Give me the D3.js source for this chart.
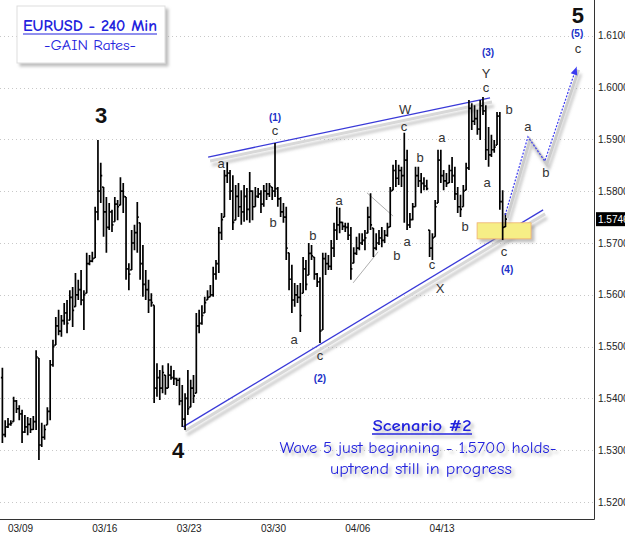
<!DOCTYPE html>
<html>
<head>
<meta charset="utf-8">
<script src="https://cdn.jsdelivr.net/npm/d3@7"></script>
<style>
  body { margin: 0; background: #fff; }
  svg { display: block; font-family: "Liberation Sans", Arial, sans-serif; }
</style>
</head>
<body>
<svg width="625" height="542"></svg>
<script>
// 240 min bars, index 0 = last bars of Fri 03/07, 30 bars per week
const highs = [
  1.5459, 1.5358,
  1.5362, 1.5358, 1.5403, 1.5397, 1.5387, 1.5378, 1.5368, 1.5364, 1.5362, 1.5366,
  1.5493, 1.5478, 1.5353, 1.5349, 1.5383, 1.5474, 1.5513, 1.5557, 1.5571, 1.5561,
  1.5584, 1.5590, 1.5609, 1.5615, 1.5642, 1.5629, 1.5648, 1.5609, 1.5681, 1.5677,
  1.5683, 1.5770, 1.5899, 1.5855, 1.5808, 1.5789, 1.5777, 1.5764, 1.5789, 1.5783,
  1.5827, 1.5816, 1.5789, 1.5661, 1.5725, 1.5735, 1.5779, 1.5739, 1.5696, 1.5648,
  1.5629, 1.5603, 1.5580, 1.5468, 1.5455, 1.5464, 1.5445, 1.5468, 1.5463, 1.5455,
  1.5440, 1.5440, 1.5426, 1.5410, 1.5455, 1.5436, 1.5445, 1.5565, 1.5571, 1.5580,
  1.5596, 1.5609, 1.5619, 1.5654, 1.5667, 1.5731, 1.5758, 1.5841, 1.5856, 1.5841,
  1.5831, 1.5812, 1.5816, 1.5802, 1.5812, 1.5806, 1.5837, 1.5802, 1.5808, 1.5806,
  1.5802, 1.5812, 1.5816, 1.5816, 1.5808, 1.5893, 1.5808, 1.5789, 1.5777, 1.5770,
  1.5681, 1.5658, 1.5623, 1.5619, 1.5623, 1.5673, 1.5667, 1.5700, 1.5696, 1.5673,
  1.5642, 1.5634, 1.5681, 1.5681, 1.5677, 1.5706, 1.5739, 1.5770, 1.5768, 1.5741,
  1.5739, 1.5739, 1.5731, 1.5692, 1.5712, 1.5719, 1.5719, 1.5725, 1.5770, 1.5796,
  1.5729, 1.5719, 1.5725, 1.5731, 1.5725, 1.5739, 1.5808, 1.5851, 1.5860, 1.5851,
  1.5847, 1.5913, 1.5880, 1.5758, 1.5777, 1.5847, 1.5847, 1.5835, 1.5827, 1.5822,
  1.5725, 1.5719, 1.5783, 1.5880, 1.5880, 1.5841, 1.5835, 1.5851, 1.5866, 1.5847,
  1.5808, 1.5793, 1.5812, 1.5855, 1.5976, 1.5970, 1.5966, 1.5957, 1.5976, 1.5982,
  1.5966, 1.5924, 1.5909, 1.5899, 1.5953, 1.5953, 1.5802, 1.5758
];
const lows = [
  1.5314, 1.5325,
  1.5343, 1.5347, 1.5355, 1.5372, 1.5358, 1.5314, 1.5333, 1.5329, 1.5333, 1.5339,
  1.5339, 1.5281, 1.5306, 1.5320, 1.5349, 1.5358, 1.5461, 1.5503, 1.5522, 1.5519,
  1.5542, 1.5526, 1.5551, 1.5538, 1.5577, 1.5590, 1.5580, 1.5532, 1.5603, 1.5657,
  1.5663, 1.5671, 1.5744, 1.5777, 1.5712, 1.5681, 1.5725, 1.5721, 1.5741, 1.5744,
  1.5773, 1.5758, 1.5629, 1.5609, 1.5648, 1.5686, 1.5681, 1.5629, 1.5596, 1.5590,
  1.5565, 1.5577, 1.5391, 1.5403, 1.5397, 1.5410, 1.5407, 1.5420, 1.5436, 1.5426,
  1.5424, 1.5387, 1.5345, 1.5339, 1.5368, 1.5383, 1.5391, 1.5410, 1.5526, 1.5542,
  1.5565, 1.5590, 1.5596, 1.5596, 1.5629, 1.5642, 1.5706, 1.5750, 1.5816, 1.5783,
  1.5725, 1.5744, 1.5750, 1.5735, 1.5741, 1.5744, 1.5739, 1.5744, 1.5770, 1.5787,
  1.5758, 1.5770, 1.5783, 1.5789, 1.5783, 1.5789, 1.5770, 1.5750, 1.5739, 1.5667,
  1.5609, 1.5565, 1.5577, 1.5584, 1.5528, 1.5603, 1.5609, 1.5638, 1.5667, 1.5629,
  1.5615, 1.5507, 1.5532, 1.5638, 1.5648, 1.5648, 1.5673, 1.5706, 1.5719, 1.5725,
  1.5721, 1.5706, 1.5629, 1.5661, 1.5677, 1.5686, 1.5696, 1.5686, 1.5719, 1.5725,
  1.5673, 1.5686, 1.5696, 1.5692, 1.5700, 1.5712, 1.5731, 1.5802, 1.5808, 1.5812,
  1.5808, 1.5739, 1.5725, 1.5729, 1.5744, 1.5770, 1.5808, 1.5796, 1.5802, 1.5802,
  1.5673, 1.5667, 1.5712, 1.5777, 1.5816, 1.5802, 1.5808, 1.5816, 1.5816, 1.5783,
  1.5758, 1.5750, 1.5770, 1.5802, 1.5841, 1.5918, 1.5928, 1.5909, 1.5899, 1.5947,
  1.5860, 1.5847, 1.5866, 1.5874, 1.5889, 1.5764, 1.5706, 1.5731
];
const closes = [
  1.5330, 1.5345,
  1.5350, 1.5352, 1.5395, 1.5380, 1.5370, 1.5335, 1.5345, 1.5350, 1.5340, 1.5355,
  1.5480, 1.5310, 1.5325, 1.5340, 1.5375, 1.5465, 1.5500, 1.5540, 1.5530, 1.5550,
  1.5565, 1.5545, 1.5595, 1.5570, 1.5600, 1.5610, 1.5590, 1.5600, 1.5660, 1.5665,
  1.5670, 1.5760, 1.5800, 1.5830, 1.5760, 1.5730, 1.5760, 1.5735, 1.5775, 1.5770,
  1.5800, 1.5790, 1.5650, 1.5640, 1.5700, 1.5720, 1.5750, 1.5660, 1.5620, 1.5610,
  1.5590, 1.5585, 1.5420, 1.5440, 1.5420, 1.5450, 1.5420, 1.5445, 1.5440, 1.5438,
  1.5435, 1.5395, 1.5360, 1.5400, 1.5380, 1.5420, 1.5405, 1.5540, 1.5545, 1.5560,
  1.5585, 1.5595, 1.5600, 1.5640, 1.5660, 1.5720, 1.5745, 1.5830, 1.5835, 1.5800,
  1.5740, 1.5790, 1.5770, 1.5760, 1.5790, 1.5765, 1.5800, 1.5770, 1.5790, 1.5795,
  1.5775, 1.5800, 1.5795, 1.5810, 1.5800, 1.5805, 1.5785, 1.5760, 1.5750, 1.5690,
  1.5630, 1.5590, 1.5600, 1.5595, 1.5560, 1.5650, 1.5620, 1.5680, 1.5675, 1.5640,
  1.5625, 1.5530, 1.5670, 1.5660, 1.5655, 1.5690, 1.5725, 1.5735, 1.5740, 1.5732,
  1.5730, 1.5715, 1.5650, 1.5680, 1.5690, 1.5700, 1.5705, 1.5710, 1.5750, 1.5735,
  1.5690, 1.5700, 1.5710, 1.5705, 1.5715, 1.5730, 1.5800, 1.5840, 1.5825, 1.5840,
  1.5830, 1.5860, 1.5735, 1.5745, 1.5770, 1.5830, 1.5820, 1.5815, 1.5810, 1.5805,
  1.5690, 1.5710, 1.5770, 1.5860, 1.5830, 1.5820, 1.5815, 1.5840, 1.5830, 1.5795,
  1.5770, 1.5765, 1.5800, 1.5845, 1.5960, 1.5935, 1.5940, 1.5920, 1.5965, 1.5955,
  1.5880, 1.5870, 1.5880, 1.5885, 1.5945, 1.5780, 1.5730, 1.5746
];
const firstOpen = 1.5440;
const lastPrice = 1.5746;

const dateLabels = ['03/09', '03/16', '03/23', '03/30', '04/06', '04/13'];
const dateIndex = [2, 32, 62, 92, 122, 152];
const priceTicks = [1.52, 1.53, 1.54, 1.55, 1.56, 1.57, 1.58, 1.59, 1.60, 1.61];

// elliott wave counts, placed at [bar index, price]
const bigLabels = [['3', 35.1, 1.5947], ['4', 62.5, 1.5300], ['5', 204.8, 1.6140]];
const degreeLabels = [
  ['(1)', 97, 1.5943], ['(2)', 113, 1.5439], ['(3)', 172.8, 1.6067],
  ['(4)', 179.6, 1.5648], ['(5)', 204.5, 1.6105]
];
const minorLabels = [
  ['c', 97, 1.5918], ['a', 77.8, 1.5854], ['b', 96.3, 1.5739], ['b', 110.5, 1.5715],
  ['a', 103.8, 1.5513], ['c', 113, 1.5482], ['a', 119.8, 1.5783], ['W', 143.3, 1.5957],
  ['c', 142.9, 1.5924], ['b', 148.6, 1.5866], ['a', 156.4, 1.5903], ['a', 144, 1.5702],
  ['b', 140.4, 1.5675], ['c', 152.9, 1.5658], ['X', 155.7, 1.5613], ['b', 164.6, 1.5731],
  ['Y', 172.1, 1.6028], ['c', 172.1, 1.6001], ['b', 180.3, 1.5957], ['a', 172.5, 1.5816],
  ['c', 178.5, 1.5683], ['a', 187, 1.5924], ['b', 193.4, 1.5837], ['c', 204.8, 1.6076]
];
const upperLine = [[73.2, 1.5866], [173.5, 1.5980]];
const lowerLine = [[64.3, 1.5345], [192.4, 1.5764]];
const triangleLines = [
  [[129.7, 1.5797], [139, 1.5752]],
  [[124.8, 1.5623], [133.7, 1.5683]]
];
const supportZone = { from: 168.9, to: 188.1, low: 1.5708, high: 1.5739 };
const projection = [[178.9, 1.5754], [187, 1.5905], [193, 1.5858], [204.3, 1.6040]];
const scenario = [
  'Scenario #2',
  'Wave 5 just beginning - 1.5700 holds-',
  'uptrend still in progress'
];

const width = 625;
const height = 542;
const plotRight = 594;
const plotBottom = 519;
const blue = '#2222dd';

const svg = d3.select('svg');
const x = d3.scaleLinear().domain([-0.85, 210.5]).range([0, plotRight]);
const y = d3.scaleLinear().domain([1.52, 1.61]).range([502, 35.8]);

const defs = svg.append('defs');
const addShadow = (id, dx, dy, blur, opacity) => {
  defs.append('filter')
    .attr('id', id)
    .attr('x', '-20%').attr('y', '-40%')
    .attr('width', '150%').attr('height', '200%')
    .append('feDropShadow')
    .attr('dx', dx).attr('dy', dy)
    .attr('stdDeviation', blur)
    .attr('flood-color', '#888')
    .attr('flood-opacity', opacity);
};
addShadow('shadow', 3, 3, 1.5, 0.55);
addShadow('lineShadow', 2, 4, 1.6, 0.45);

// grid
svg.append('g')
  .selectAll('line')
  .data(priceTicks)
  .join('line')
  .attr('x1', 0)
  .attr('x2', plotRight)
  .attr('y1', (d) => Math.round(y(d)) + 0.5)
  .attr('y2', (d) => Math.round(y(d)) + 0.5)
  .attr('stroke', '#c8c8c8')
  .attr('stroke-dasharray', '1,3');

// frame: right and bottom axis lines
svg.append('path')
  .attr('d', `M${plotRight + 0.5},0 V${plotBottom + 0.5} H0`)
  .attr('fill', 'none')
  .attr('stroke', '#333')
  .attr('stroke-width', 1);

svg.append('g')
  .selectAll('text')
  .data(priceTicks)
  .join('text')
  .attr('x', plotRight + 4)
  .attr('y', (d) => y(d) + 3.5)
  .attr('font-size', 10)
  .attr('fill', '#222')
  .text((d) => d.toFixed(4));

svg.append('g')
  .selectAll('text')
  .data(dateLabels)
  .join('text')
  .attr('x', (d, i) => x(dateIndex[i]))
  .attr('y', 532)
  .attr('font-size', 10)
  .attr('fill', '#222')
  .text((d) => d);

// trend channel lines with soft shadow
const line = d3.line().x((d) => x(d[0])).y((d) => y(d[1]));
[upperLine, lowerLine].forEach((pts) => {
  svg.append('path')
    .attr('d', line(pts))
    .attr('stroke', '#d8d8d8')
    .attr('stroke-width', 3)
    .attr('transform', 'translate(2,4)')
    .attr('filter', 'url(#lineShadow)');
  svg.append('path')
    .attr('d', line(pts))
    .attr('stroke', '#3a3ad8')
    .attr('stroke-width', 1.3);
});

svg.append('g')
  .selectAll('path')
  .data(triangleLines)
  .join('path')
  .attr('d', line)
  .attr('stroke', '#999')
  .attr('stroke-width', 0.8);

// yellow support zone
svg.append('rect')
  .attr('x', x(supportZone.from))
  .attr('y', y(supportZone.high))
  .attr('width', x(supportZone.to) - x(supportZone.from))
  .attr('height', y(supportZone.low) - y(supportZone.high))
  .attr('fill', '#f6ee86')
  .attr('stroke', '#f0b070')
  .attr('stroke-width', 0.8)
  .attr('filter', 'url(#shadow)');

// ohlc bars
const bars = highs.map((h, i) => ({
  i,
  h,
  l: lows[i],
  c: closes[i],
  o: i === 0 ? firstOpen : Math.min(h, Math.max(lows[i], closes[i - 1])),
}));

svg.append('g')
  .selectAll('path')
  .data(bars)
  .join('path')
  .attr('d', (d) => {
    const cx = x(d.i);
    return `M${cx},${y(d.h)}V${y(d.l)}M${cx - 1.5},${y(d.o)}H${cx}M${cx},${y(d.c)}H${cx + 1.5}`;
  })
  .attr('fill', 'none')
  .attr('stroke', '#000')
  .attr('stroke-width', 1.7);

// projected path for wave 5
const projG = svg.append('g');
projG.append('path')
  .attr('d', line(projection))
  .attr('fill', 'none')
  .attr('stroke', '#ccc')
  .attr('stroke-width', 3)
  .attr('transform', 'translate(2,3)')
  .attr('filter', 'url(#lineShadow)');
projG.append('path')
  .attr('d', line(projection))
  .attr('fill', 'none')
  .attr('stroke', '#3a3af0')
  .attr('stroke-width', 1.2)
  .attr('stroke-dasharray', '2,1.5');

const tip = projection[projection.length - 1];
const prev = projection[projection.length - 2];
const ang = Math.atan2(y(tip[1]) - y(prev[1]), x(tip[0]) - x(prev[0])) * 180 / Math.PI;
projG.append('path')
  .attr('d', 'M0,0 L-8,-3.5 L-8,3.5 Z')
  .attr('fill', '#3a3af0')
  .attr('transform', `translate(${x(tip[0])},${y(tip[1])}) rotate(${ang})`);

// last price marker
svg.append('rect')
  .attr('x', plotRight + 2)
  .attr('y', y(lastPrice) - 7)
  .attr('width', 40)
  .attr('height', 14)
  .attr('fill', '#000');
svg.append('text')
  .attr('x', plotRight + 4)
  .attr('y', y(lastPrice) + 3.5)
  .attr('font-size', 10)
  .attr('fill', '#fff')
  .text(lastPrice.toFixed(4));

// wave labels
svg.append('g')
  .selectAll('text')
  .data(bigLabels)
  .join('text')
  .attr('x', (d) => x(d[1]))
  .attr('y', (d) => y(d[2]))
  .attr('text-anchor', 'middle')
  .attr('dominant-baseline', 'central')
  .attr('font-size', 22)
  .attr('font-weight', 'bold')
  .attr('fill', '#111')
  .text((d) => d[0]);

svg.append('g')
  .selectAll('text')
  .data(degreeLabels)
  .join('text')
  .attr('x', (d) => x(d[1]))
  .attr('y', (d) => y(d[2]))
  .attr('text-anchor', 'middle')
  .attr('dominant-baseline', 'central')
  .attr('font-size', 10)
  .attr('font-weight', 'bold')
  .attr('fill', '#2030c8')
  .text((d) => d[0]);

svg.append('g')
  .selectAll('text')
  .data(minorLabels)
  .join('text')
  .attr('x', (d) => x(d[1]))
  .attr('y', (d) => y(d[2]))
  .attr('text-anchor', 'middle')
  .attr('dominant-baseline', 'central')
  .attr('font-size', 13)
  .attr('fill', '#333')
  .text((d) => d[0]);

// title box
const comic = '"Comic Sans MS", "Comic Neue", "DejaVu Sans", sans-serif';
svg.append('rect')
  .attr('x', 17).attr('y', 6)
  .attr('width', 148).attr('height', 57)
  .attr('fill', '#fff')
  .attr('stroke', '#ddd')
  .attr('filter', 'url(#shadow)');
svg.append('text')
  .attr('x', 90).attr('y', 31)
  .attr('text-anchor', 'middle')
  .attr('font-family', comic)
  .attr('font-size', 15)
  .attr('font-weight', 'bold')
  .attr('fill', blue)
  .attr('textLength', 134)
  .attr('lengthAdjust', 'spacingAndGlyphs')
  .text('EURUSD - 240 Min');
svg.append('line')
  .attr('x1', 23).attr('x2', 157)
  .attr('y1', 34).attr('y2', 34)
  .attr('stroke', blue)
  .attr('stroke-width', 1.2);
svg.append('text')
  .attr('x', 90).attr('y', 50)
  .attr('text-anchor', 'middle')
  .attr('font-family', comic)
  .attr('font-size', 13)
  .attr('fill', blue)
  .attr('textLength', 92)
  .attr('lengthAdjust', 'spacingAndGlyphs')
  .text('-GAIN Rates-');

// scenario note
const note = svg.append('g')
  .attr('font-family', comic)
  .attr('fill', blue)
  .attr('text-anchor', 'middle')
  .attr('filter', 'url(#shadow)');
note.append('text')
  .attr('x', 422).attr('y', 431)
  .attr('font-size', 16)
  .attr('font-weight', 'bold')
  .attr('textLength', 99)
  .attr('lengthAdjust', 'spacingAndGlyphs')
  .text(scenario[0]);
note.append('line')
  .attr('x1', 372).attr('x2', 472)
  .attr('y1', 434).attr('y2', 434)
  .attr('stroke', blue)
  .attr('stroke-width', 1.3);
note.append('text')
  .attr('x', 418).attr('y', 453)
  .attr('font-size', 15)
  .attr('textLength', 277)
  .attr('lengthAdjust', 'spacingAndGlyphs')
  .text(scenario[1]);
note.append('text')
  .attr('x', 421).attr('y', 474)
  .attr('font-size', 15)
  .attr('textLength', 182)
  .attr('lengthAdjust', 'spacingAndGlyphs')
  .text(scenario[2]);
</script>
</body>
</html>
